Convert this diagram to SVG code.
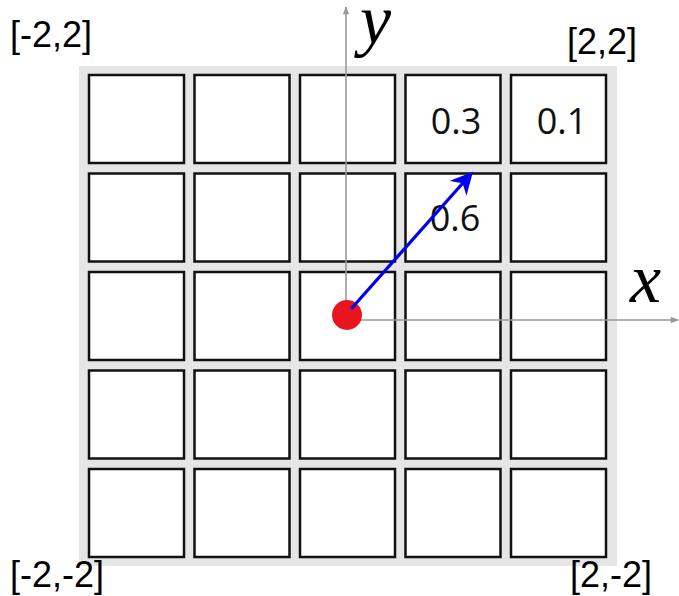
<svg xmlns="http://www.w3.org/2000/svg" width="679" height="596" viewBox="0 0 679 596">
<style>
.cell{fill:#fff;stroke:#111;stroke-width:2.5}
.lbl{font-family:"Liberation Sans",Arial,sans-serif;font-size:36px;fill:#000}
.val{font-family:"Open Sans","Noto Sans",sans-serif;font-size:36px;fill:#111}
.ax{stroke:#999;stroke-width:1.6;fill:none}
.math{font-family:"Liberation Serif","DejaVu Serif",serif;font-style:italic;font-size:70px;fill:#000}
</style>
<defs>
<marker id="ga" viewBox="0 0 10 10" refX="9" refY="5" markerWidth="10" markerHeight="8" markerUnits="userSpaceOnUse" orient="auto"><path d="M0,1 L10,5 L0,9 Z" fill="#999"/></marker>
<marker id="ba" viewBox="0 0 10 10" refX="8" refY="5" markerWidth="7" markerHeight="7" orient="auto"><path d="M0,0 L10,5 L0,10 L3,5 Z" fill="#0000ee"/></marker>
</defs>
<rect x="79" y="66" width="538" height="500" fill="#e6e6e6"/>
<g id="grid">
<g id="r1"><rect class="cell" x="89" y="75" width="95" height="88"/><rect class="cell" x="194.5" y="75" width="95" height="88"/><rect class="cell" x="300" y="75" width="95" height="88"/><rect class="cell" x="405.5" y="75" width="95" height="88"/><rect class="cell" x="511" y="75" width="95" height="88"/></g>
<g id="r2"><rect class="cell" x="89" y="173.5" width="95" height="88"/><rect class="cell" x="194.5" y="173.5" width="95" height="88"/><rect class="cell" x="300" y="173.5" width="95" height="88"/><rect class="cell" x="405.5" y="173.5" width="95" height="88"/><rect class="cell" x="511" y="173.5" width="95" height="88"/></g>
<g id="r3"><rect class="cell" x="89" y="272" width="95" height="88"/><rect class="cell" x="194.5" y="272" width="95" height="88"/><rect class="cell" x="300" y="272" width="95" height="88"/><rect class="cell" x="405.5" y="272" width="95" height="88"/><rect class="cell" x="511" y="272" width="95" height="88"/></g>
<g id="r4"><rect class="cell" x="89" y="370.5" width="95" height="88"/><rect class="cell" x="194.5" y="370.5" width="95" height="88"/><rect class="cell" x="300" y="370.5" width="95" height="88"/><rect class="cell" x="405.5" y="370.5" width="95" height="88"/><rect class="cell" x="511" y="370.5" width="95" height="88"/></g>
<g id="r5"><rect class="cell" x="89" y="469" width="95" height="88"/><rect class="cell" x="194.5" y="469" width="95" height="88"/><rect class="cell" x="300" y="469" width="95" height="88"/><rect class="cell" x="405.5" y="469" width="95" height="88"/><rect class="cell" x="511" y="469" width="95" height="88"/></g>
</g>
<g id="values">
<text class="val" x="456" y="134" text-anchor="middle">0.3</text>
<text class="val" x="562" y="134" text-anchor="middle">0.1</text>
<text class="val" x="455" y="231" text-anchor="middle">0.6</text>
</g>
<g id="connectors">
<line class="ax" x1="346" y1="316" x2="346" y2="7" marker-end="url(#ga)"/>
<line class="ax" x1="350" y1="320" x2="678" y2="320" marker-end="url(#ga)"/>
<circle id="origin" cx="347" cy="315" r="15" fill="#e8141e"/>
<line x1="351" y1="309" x2="470" y2="175" stroke="#0000ee" stroke-width="3.2" marker-end="url(#ba)"/>
</g>
<g id="labels">
<text class="lbl" x="10" y="47">[-2,2]</text>
<text class="lbl" x="567" y="54">[2,2]</text>
<text class="lbl" x="10" y="587">[-2,-2]</text>
<text class="lbl" x="570" y="587">[2,-2]</text>
<text class="math" x="360" y="43">y</text>
<text class="math" x="630" y="302">x</text>
</g>
</svg>
